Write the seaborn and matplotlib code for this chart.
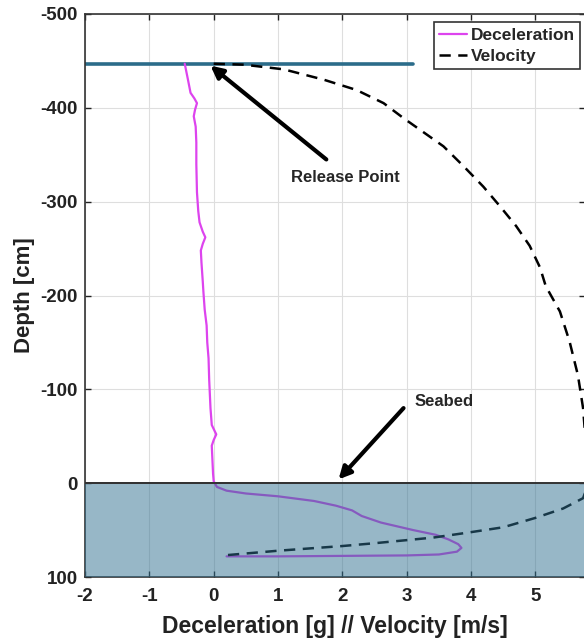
import matplotlib
matplotlib.use('Agg')
import matplotlib.pyplot as plt
import matplotlib.patches as mpatches
import seaborn as sns

# deceleration [g] vs depth [cm]
decel = [-0.45, -0.40, -0.36, -0.30, -0.26, -0.29, -0.31, -0.28, -0.27, -0.27,
         -0.26, -0.24, -0.22, -0.17, -0.13, -0.17, -0.20, -0.19, -0.17, -0.16,
         -0.14, -0.11, -0.10, -0.08, -0.07, -0.05, -0.03, 0.04, 0.00, -0.03,
         -0.02, -0.01, 0.00, 0.05, 0.20, 0.50, 1.00, 1.56, 1.90, 2.15,
         2.30, 2.60, 3.10, 3.45, 3.65, 3.80, 3.85, 3.78, 3.50, 3.00,
         2.00, 1.00, 0.20]
decel_depth = [-447, -430, -416, -410, -405, -398, -391, -380, -363, -340,
               -310, -290, -278, -268, -262, -255, -248, -235, -215, -204,
               -185, -168, -150, -133, -110, -80, -62, -52, -46, -40,
               -25, -10, -2, 4, 8, 11, 14, 19, 24, 29,
               35, 42, 50, 55, 60, 65, 69, 73, 76, 77,
               77.5, 78, 78]

# velocity [m/s] vs depth [cm]
vel = [0.0, 0.47, 1.09, 1.71, 2.22, 2.64, 2.95, 3.26, 3.57, 3.88, 4.19, 4.45,
       4.70, 4.91, 5.07, 5.16, 5.38, 5.53, 5.66, 5.74, 5.78, 5.82, 5.80, 5.74,
       5.43, 5.00, 4.50, 3.92, 3.41, 2.50, 2.00, 1.00, 0.15]
vel_depth = [-447, -446, -441, -430, -419, -405, -389, -374, -359, -338, -316, -295,
             -274, -253, -230, -210, -183, -151, -115, -80, -45, -15, 5, 16,
             27, 37, 47, 53, 58, 64, 67, 72, 77]

release_depth = -447
seabed_depth = 0
seabed_bottom = 100

sns.set_style('ticks')
plt.rcParams['font.family'] = ['Liberation Sans', 'DejaVu Sans']
plt.rcParams['font.weight'] = 'bold'
plt.rcParams['axes.unicode_minus'] = False

fig = plt.figure(figsize=(5.84, 6.39), dpi=100)
ax = fig.add_axes([85 / 584, 62 / 639, 500 / 584, 563 / 639])

ax.grid(True, color='#dedede', linewidth=0.8)
ax.set_axisbelow(True)

ax.plot([-2, 3.1], [release_depth, release_depth], color='#2b6c8a', linewidth=2.6, zorder=2)
ax.plot([-2, 3.85], [seabed_depth, seabed_depth], color='#5a1a1a', linewidth=1.2, zorder=2)

sns.lineplot(x=decel, y=decel_depth, sort=False, estimator=None, color='#dd44ee',
             linewidth=1.6, label='Deceleration', ax=ax, zorder=3)
sns.lineplot(x=vel, y=vel_depth, sort=False, estimator=None, color='black',
             linewidth=1.8, linestyle=(0, (4.5, 3)), label='Velocity', ax=ax, zorder=3)

seabed = mpatches.Rectangle((-2, seabed_depth), 10, seabed_bottom - seabed_depth,
                            facecolor='#317191', alpha=0.5, edgecolor='none', zorder=4)
ax.add_patch(seabed)
ax.plot([-2, 8], [seabed_depth, seabed_depth], color='#333333', linewidth=1.4, zorder=5)

arrow = dict(arrowstyle='-|>', color='black', lw=3, mutation_scale=18, shrinkA=0, shrinkB=0)
ax.annotate('', xy=(-0.05, -445), xytext=(1.75, -345), arrowprops=arrow)
ax.text(2.05, -326, 'Release Point', ha='center', va='center', fontsize=12, fontweight='bold')
ax.annotate('', xy=(1.94, -4), xytext=(2.95, -80), arrowprops=arrow)
ax.text(3.58, -87, 'Seabed', ha='center', va='center', fontsize=12, fontweight='bold')

ax.set_xlim(-2, 5.77)
ax.set_ylim(100, -500)
ax.set_xticks(range(-2, 6))
ax.set_yticks(range(-500, 101, 100))
ax.tick_params(direction='in', length=4, width=1, top=True, right=True,
               labelsize=13.5, colors='#222222', pad=5)
ax.tick_params(axis='x', pad=8)
for lab in ax.get_xticklabels() + ax.get_yticklabels():
    lab.set_fontweight('bold')
for s in ax.spines.values():
    s.set_linewidth(1.2)
    s.set_color('#333333')

ax.set_xlabel('Deceleration [g] // Velocity [m/s]', fontsize=16.5, fontweight='bold',
              color='#222222', labelpad=7)
ax.set_ylabel('Depth [cm]', fontsize=16, fontweight='bold', color='#222222', labelpad=4)

leg = ax.legend(loc='upper right', bbox_to_anchor=(0.99, 0.985),
                prop={'weight': 'bold', 'size': 12.5}, handlelength=1.6, handletextpad=0.2,
                borderpad=0.3, labelspacing=0.35, fancybox=False, framealpha=1,
                edgecolor='#333333', borderaxespad=0)
leg.get_frame().set_linewidth(1.2)

fig.savefig('out.png', dpi=100)
